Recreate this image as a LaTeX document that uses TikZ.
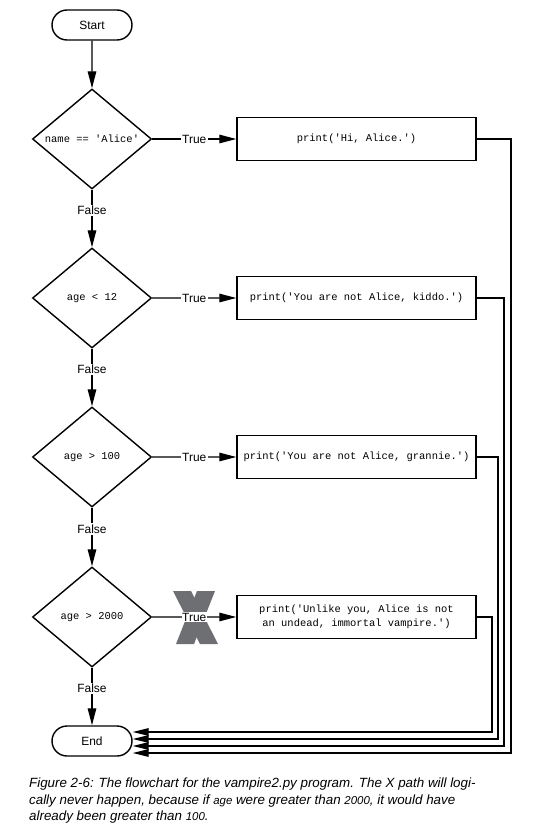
\documentclass[tikz,border=0pt]{standalone}
\usepackage{fontspec}
\setmainfont{Liberation Sans}
\setmonofont{Liberation Mono}
\usetikzlibrary{arrows.meta,shapes.geometric}
\definecolor{xgrey}{RGB}{110,111,115}
\begin{document}
\begin{tikzpicture}[scale=0.2,
	lbl/.style={fill=white,inner sep=1.5pt,font=\fontsize{13.6}{16}\selectfont},
	code/.style={font=\ttfamily\fontsize{11.9}{16}\selectfont},
	term/.style={draw=black,line width=1.6pt,rounded corners=0.6cm,minimum width=3.2cm,minimum height=1.2cm,font=\fontsize{13.6}{16}\selectfont},
	test/.style={draw=black,line width=1.6pt,diamond,shape aspect=1.3,minimum width=4.76cm,minimum height=4cm,code},
	act/.style={draw=black,line width=1.6pt,minimum width=9.56cm,minimum height=1.72cm,align=center,code},
	flow/.style={black,line width=1.5pt,-{Triangle[length=0.68cm,width=0.34cm]}},
	back/.style={black,line width=1.5pt,-{Triangle[length=0.64cm,width=0.3cm]}}]
		\tikzstyle{every node}+=[inner sep=0pt]
		\useasboundingbox (0,0) rectangle (108.8,-166.8);
		\node [term] (start) at (18.4,-5) {Start};
		\node [test] (q1) at (18.4,-27.8) {name == 'Alice'};
		\node [test] (q2) at (18.4,-59.6) {age < 12};
		\node [test] (q3) at (18.4,-91.4) {age > 100};
		\node [test] (q4) at (18.4,-123.4) {age > 2000};
		\node [term] (stop) at (18.4,-148.2) {End};
		\node [act] (p1) at (71.3,-27.8) {print('Hi, Alice.')};
		\node [act] (p2) at (71.3,-59.6) {print('You are not Alice, kiddo.')};
		\node [act] (p3) at (71.3,-91.4) {print('You are not Alice, grannie.')};
		\node [act] (p4) at (71.3,-123.4) {print('Unlike you, Alice is not\\an undead, immortal vampire.')};
		\fill [xgrey] (34.6,-118.2) -- (38.2,-118.2) -- (43.6,-128.8) -- (40,-128.8) -- cycle;
		\fill [xgrey] (39.4,-118.2) -- (43,-118.2) -- (38.8,-128.8) -- (35.2,-128.8) -- cycle;
		\draw [flow] (start) -- (q1);
		\draw [flow] (q1) -- node [lbl,pos=0.36] {False} (q2);
		\draw [flow] (q2) -- node [lbl,pos=0.36] {False} (q3);
		\draw [flow] (q3) -- node [lbl,pos=0.36] {False} (q4);
		\draw [flow] (q4) -- node [lbl,pos=0.36] {False} (stop);
		\draw [flow] (q1) -- node [lbl] {True} (p1);
		\draw [flow] (q2) -- node [lbl] {True} (p2);
		\draw [flow] (q3) -- node [lbl] {True} (p3);
		\draw [flow] (q4) -- node [lbl,inner sep=0.5pt] {True} (p4);
		\coordinate (r1) at (102.2,-150.6);
		\coordinate (r2) at (100.8,-149.2);
		\coordinate (r3) at (99.6,-147.8);
		\coordinate (r4) at (98.4,-146.4);
		\draw [back] (p1.east) -| (r1) -- (r1 -| stop.east);
		\draw [back] (p2.east) -| (r2) -- (r2 -| stop.east);
		\draw [back] (p3.east) -| (r3) -- (r3 -| stop.east);
		\draw [back] (p4.east) -| (r4) -- (r4 -| stop.east);
		\node [anchor=north west,align=left,font=\itshape\fontsize{15.2}{18.8}\selectfont] (cap) at (5.8,-155.6) {Figure 2-6: The flowchart for the vampire2.py program. The X path will logi-\\cally never happen, because if {\fontsize{13}{18.8}\selectfont age} were greater than {\fontsize{13}{18.8}\selectfont 2000}, it would have\\already been greater than {\fontsize{13}{18.8}\selectfont 100}.};
\end{tikzpicture}
\end{document}
